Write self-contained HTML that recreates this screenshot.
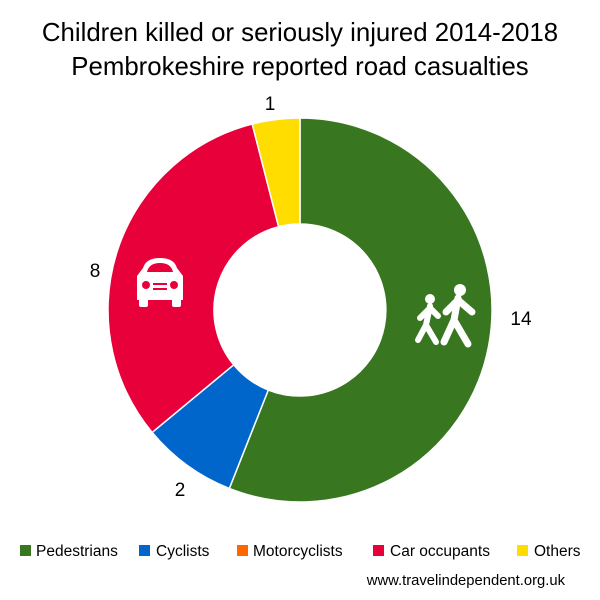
<!DOCTYPE html>
<html><head><meta charset="utf-8"><style>
body{margin:0;background:#fff;}
svg{display:block;font-family:"Liberation Sans",sans-serif;}
</style></head><body>
<svg width="600" height="600" viewBox="0 0 600 600">
<rect width="600" height="600" fill="#fff"/>
<text x="300" y="41" font-size="25.8" text-anchor="middle" fill="#000">Children killed or seriously injured 2014-2018</text>
<text x="300" y="75" font-size="25.8" text-anchor="middle" fill="#000">Pembrokeshire reported road casualties</text>
<g stroke="#fff" stroke-width="1.5">
<path d="M300,118 A192,192 0 1 1 229.3,488.5 L268.3,390 A86,86 0 1 0 300,224 Z" fill="#38761f"/>
<path d="M229.3,488.5 A192,192 0 0 1 152.1,432.4 L233.7,364.8 A86,86 0 0 0 268.3,390 Z" fill="#0066cc"/>
<path d="M152.1,432.4 A192,192 0 0 1 252.2,124 L278.6,226.7 A86,86 0 0 0 233.7,364.8 Z" fill="#e8003a"/>
<path d="M252.2,124 A192,192 0 0 1 300,118 L300,224 A86,86 0 0 0 278.6,226.7 Z" fill="#ffdd00"/>
</g>
<g fill="#fff">
<path d="M143,268 Q146,258 160,258 Q174,258 177,268 L183,276 L183,300 L137,300 L137,276 Z"/>
<rect x="139" y="298" width="9" height="9" rx="2"/>
<rect x="172" y="298" width="9" height="9" rx="2"/>
</g>
<g fill="#e8003a">
<path d="M147,272 Q149,263 160,263 Q171,263 173,272 Z"/>
<circle cx="146" cy="285" r="4"/><circle cx="174" cy="285" r="4"/>
<rect x="153" y="283" width="14" height="2"/><rect x="153" y="288" width="14" height="2"/>
</g>
<g fill="#fff" stroke="#fff" stroke-linecap="round">
<circle cx="430" cy="299" r="5" stroke="none"/>
<circle cx="460" cy="290" r="6" stroke="none"/>
<path d="M430,306 L426,325 M430,308 L420,318 M430,308 L438,316 M426,325 L418,340 M426,325 L436,342" stroke-width="6" fill="none"/>
<path d="M458,298 L454,320 M458,300 L446,312 M458,300 L472,312 M454,320 L444,342 M454,320 L468,344" stroke-width="7" fill="none"/>
</g>
<text x="521" y="325" font-size="19" text-anchor="middle">14</text>
<text x="180" y="496" font-size="19" text-anchor="middle">2</text>
<text x="95" y="277" font-size="19" text-anchor="middle">8</text>
<text x="270" y="110" font-size="19" text-anchor="middle">1</text>
<g font-size="15.5" fill="#000">
<rect x="20" y="545" width="11" height="11" fill="#38761f"/><text x="36" y="556">Pedestrians</text>
<rect x="139" y="545" width="11" height="11" fill="#0066cc"/><text x="156" y="556">Cyclists</text>
<rect x="237" y="545" width="11" height="11" fill="#ff6600"/><text x="253" y="556">Motorcyclists</text>
<rect x="373" y="545" width="11" height="11" fill="#e8003a"/><text x="390" y="556">Car occupants</text>
<rect x="517" y="545" width="11" height="11" fill="#ffdd00"/><text x="534" y="556">Others</text>
</g>
<text x="565" y="585" font-size="14.8" text-anchor="end">www.travelindependent.org.uk</text>
</svg>
</body></html>
